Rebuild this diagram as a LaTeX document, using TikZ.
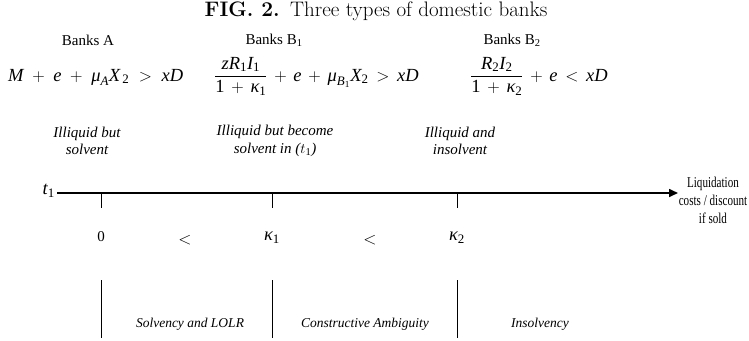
\documentclass[tikz,border=0pt]{standalone}
\usepackage{fontspec}
\usepackage{amsmath}
\setmainfont{Liberation Serif}
\newfontfamily\lmfont{Latin Modern Roman}
\usetikzlibrary{arrows.meta}
\newcommand{\iv}[1]{\text{\itshape #1}}
\newcommand{\rv}[1]{\text{\upshape #1}}
\newcommand{\op}[1]{\mathbin{\,#1\,}}
\newcommand{\rl}[1]{\mathrel{\,#1\,}}
\newcommand{\opw}[1]{\mathbin{\;#1\;}}
\newcommand{\rlw}[1]{\mathrel{\;#1\;}}
\begin{document}
\begin{tikzpicture}[x=1pt,y=-1pt,
  ttl/.style={font=\lmfont\fontsize{21}{24}\selectfont, inner sep=0},
  lbl/.style={font=\fontsize{15}{17}\selectfont, inner sep=0},
  itl/.style={font=\fontsize{15}{17.5}\selectfont\itshape, align=center, inner sep=0},
  itb/.style={font=\fontsize{13.5}{16}\selectfont\itshape, align=center, inner sep=0},
  frm/.style={font=\fontsize{18.5}{21}\selectfont, inner sep=0},
  liqs/.style={font=\fontsize{15}{18}\selectfont, align=center, inner sep=0},
  axisline/.style={line width=1.6pt, -{Triangle[length=9pt,width=8pt]}},
  tick/.style={line width=0.9pt},
  divider/.style={line width=0.9pt}]
\useasboundingbox (0,0) rectangle (749,340);
% title
\node[ttl] (title) at (376,11) {\textbf{FIG. 2.}\enspace Three types of domestic banks};
% bank headers
\node[lbl] (bA) at (88,40) {Banks A};
\node[lbl] (bB1) at (274,40) {Banks B\textsubscript{1}};
\node[lbl] (bB2) at (512,40) {Banks B\textsubscript{2}};
% formulas
\node[frm, anchor=base west] (fA) at (8,81) {$\iv{M}\opw{+}\iv{e}\opw{+}\iv{μ}_{\iv{A}}\iv{X}_{\,\rv{2}}\rlw{>}\iv{xD}$};
\node[frm, anchor=base west] (fB1) at (214,81) {$\dfrac{\iv{zR}_{\rv1}\iv{I}_{\rv1}}{\rv{1}\op{+}\iv{κ}_{\rv1}}\op{+}\iv{e}\op{+}\iv{μ}_{\iv{B}_{\rv1}}\iv{X}_{\rv2}\rl{>}\iv{xD}$};
\node[frm, anchor=base west] (fB2) at (470,81) {$\dfrac{\iv{R}_{\rv2}\iv{I}_{\rv2}}{\rv{1}\op{+}\iv{κ}_{\rv2}}\op{+}\iv{e}\rl{<}\iv{xD}$};
% categories
\node[itl] (cA) at (87,141) {Illiquid but\\solvent};
\node[itl] (cB1) at (275,141) {Illiquid but become\\solvent in ($t_{\rv1}$)};
\node[itl] (cB2) at (460,141) {Illiquid and\\insolvent};
% axis
\node[frm, anchor=east] (t1) at (55,191) {$\iv{t}_{\rv1}$};
\coordinate (ax0) at (57,193);
\coordinate (ax1) at (678,193);
\draw[axisline] (ax0) -- (ax1);
\node[liqs] (liq) at (713,200) {\scalebox{0.74}[1]{Liquidation}\\\scalebox{0.74}[1]{costs / discount}\\\scalebox{0.74}[1]{if sold}};
% ticks
\coordinate (k0) at (101,193);
\coordinate (k1) at (272,193);
\coordinate (k2) at (457,193);
\coordinate (k0b) at (101,208);
\coordinate (k1b) at (272,208);
\coordinate (k2b) at (457,208);
\draw[tick] (k0) -- (k0b);
\draw[tick] (k1) -- (k1b);
\draw[tick] (k2) -- (k2b);
% values
\node[lbl] (v0) at (101,237) {0};
\node[frm] (lt1) at (185,240) {$<$};
\node[frm] (v1) at (272,238) {$\iv{κ}_{\rv1}$};
\node[frm] (lt2) at (370,240) {$<$};
\node[frm] (v2) at (457,238) {$\iv{κ}_{\rv2}$};
% dividers
\coordinate (d0a) at (101,280); \coordinate (d0b) at (101,338);
\coordinate (d1a) at (272,280); \coordinate (d1b) at (272,338);
\coordinate (d2a) at (457,280); \coordinate (d2b) at (457,338);
\draw[divider] (d0a) -- (d0b);
\draw[divider] (d1a) -- (d1b);
\draw[divider] (d2a) -- (d2b);
% regimes
\node[itb] (r1) at (190,324) {Solvency and LOLR};
\node[itb] (r2) at (365,324) {Constructive Ambiguity};
\node[itb] (r3) at (540,324) {Insolvency};
\end{tikzpicture}
\end{document}
